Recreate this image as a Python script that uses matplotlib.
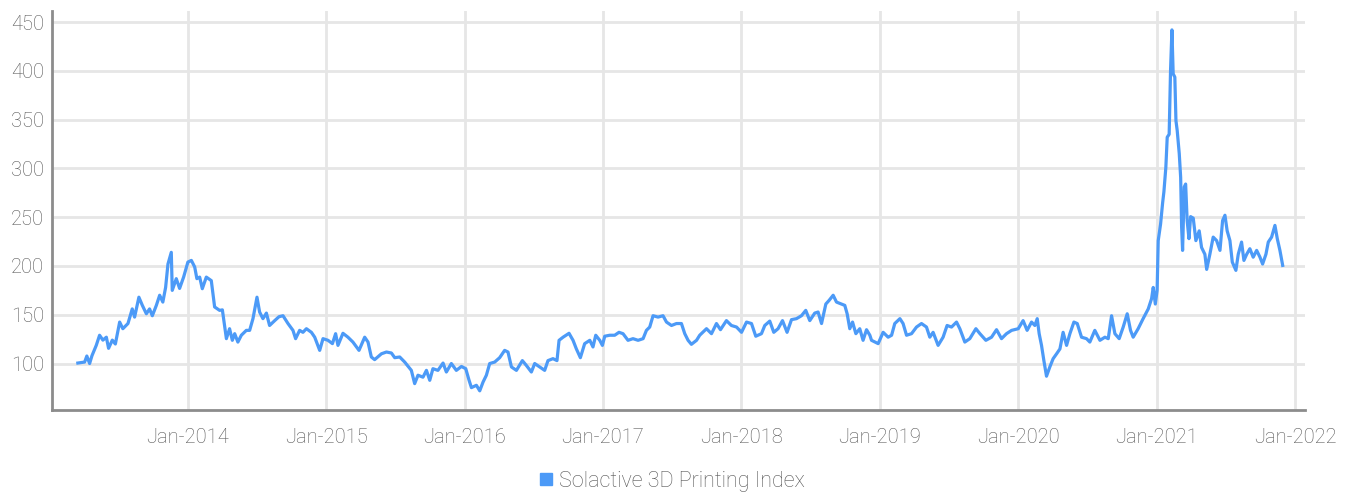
import matplotlib
matplotlib.use("Agg")
import matplotlib.pyplot as plt
from matplotlib.lines import Line2D
import numpy as np

plt.rcParams['font.family'] = ['Roboto', 'DejaVu Sans']
plt.rcParams['font.weight'] = 'light'

series_name = "Solactive 3D Printing Index"

# time as decimal years
years = [
    2013.207, 2013.256, 2013.272, 2013.292, 2013.309, 2013.340, 2013.364, 2013.388, 2013.413, 2013.429,
    2013.456, 2013.478, 2013.509, 2013.532, 2013.569, 2013.600, 2013.617, 2013.648, 2013.673, 2013.702,
    2013.725, 2013.745, 2013.774, 2013.798, 2013.821, 2013.841, 2013.858, 2013.882, 2013.889, 2013.918,
    2013.942, 2013.971, 2014.002, 2014.027, 2014.051, 2014.067, 2014.087, 2014.106, 2014.135, 2014.171,
    2014.195, 2014.231, 2014.251, 2014.280, 2014.303, 2014.323, 2014.340, 2014.363, 2014.388, 2014.424,
    2014.448, 2014.472, 2014.501, 2014.520, 2014.544, 2014.569, 2014.592, 2014.629, 2014.660, 2014.689,
    2014.725, 2014.761, 2014.780, 2014.809, 2014.833, 2014.858, 2014.894, 2014.918, 2014.954, 2014.978,
    2015.014, 2015.046, 2015.069, 2015.086, 2015.122, 2015.158, 2015.194, 2015.238, 2015.279, 2015.303,
    2015.327, 2015.351, 2015.400, 2015.436, 2015.472, 2015.496, 2015.532, 2015.568, 2015.616, 2015.640,
    2015.664, 2015.700, 2015.725, 2015.749, 2015.772, 2015.808, 2015.845, 2015.869, 2015.905, 2015.941,
    2015.978, 2016.009, 2016.033, 2016.050, 2016.086, 2016.110, 2016.134, 2016.158, 2016.182, 2016.218,
    2016.254, 2016.290, 2016.314, 2016.339, 2016.375, 2016.418, 2016.447, 2016.483, 2016.507, 2016.543,
    2016.579, 2016.603, 2016.639, 2016.668, 2016.683, 2016.712, 2016.755, 2016.784, 2016.808, 2016.837,
    2016.868, 2016.905, 2016.928, 2016.948, 2016.977, 2016.996, 2017.013, 2017.049, 2017.085, 2017.116,
    2017.145, 2017.181, 2017.217, 2017.254, 2017.290, 2017.314, 2017.338, 2017.362, 2017.398, 2017.434,
    2017.459, 2017.495, 2017.531, 2017.567, 2017.591, 2017.615, 2017.639, 2017.676, 2017.699, 2017.748,
    2017.784, 2017.820, 2017.849, 2017.892, 2017.928, 2017.965, 2018.001, 2018.037, 2018.073, 2018.104,
    2018.145, 2018.169, 2018.205, 2018.234, 2018.265, 2018.297, 2018.330, 2018.362, 2018.398, 2018.434,
    2018.465, 2018.494, 2018.530, 2018.554, 2018.579, 2018.610, 2018.634, 2018.663, 2018.687, 2018.723,
    2018.747, 2018.764, 2018.783, 2018.803, 2018.827, 2018.855, 2018.879, 2018.904, 2018.928, 2018.940,
    2018.988, 2019.024, 2019.060, 2019.085, 2019.108, 2019.145, 2019.168, 2019.193, 2019.229, 2019.265,
    2019.301, 2019.337, 2019.361, 2019.385, 2019.421, 2019.457, 2019.486, 2019.518, 2019.554, 2019.578,
    2019.614, 2019.650, 2019.694, 2019.723, 2019.766, 2019.807, 2019.843, 2019.879, 2019.915, 2019.952,
    2020.000, 2020.035, 2020.064, 2020.096, 2020.120, 2020.137, 2020.151, 2020.168, 2020.185, 2020.204,
    2020.228, 2020.252, 2020.277, 2020.301, 2020.324, 2020.349, 2020.373, 2020.402, 2020.426, 2020.457,
    2020.493, 2020.517, 2020.553, 2020.590, 2020.626, 2020.650, 2020.674, 2020.698, 2020.729, 2020.758,
    2020.787, 2020.811, 2020.830, 2020.866, 2020.902, 2020.939, 2020.963, 2020.975, 2020.990, 2021.003,
    2021.011, 2021.028, 2021.043, 2021.052, 2021.066, 2021.076, 2021.090, 2021.100, 2021.110, 2021.119,
    2021.131, 2021.139, 2021.148, 2021.163, 2021.173, 2021.180, 2021.187, 2021.199, 2021.209, 2021.220,
    2021.233, 2021.245, 2021.264, 2021.283, 2021.307, 2021.324, 2021.348, 2021.361, 2021.384, 2021.408,
    2021.433, 2021.457, 2021.476, 2021.493, 2021.509, 2021.529, 2021.546, 2021.572, 2021.589, 2021.613,
    2021.630, 2021.650, 2021.673, 2021.697, 2021.722, 2021.746, 2021.765, 2021.789, 2021.806, 2021.830,
    2021.854, 2021.871, 2021.890, 2021.910,
]
index_values = [
    100.5, 101.5, 107.7, 100.0, 108.0, 118.6, 129.0, 124.0, 127.0, 115.6,
    124.0, 120.0, 142.5, 135.7, 141.0, 156.0, 147.6, 168.0, 159.6, 151.0,
    156.0, 149.0, 159.6, 170.0, 163.0, 178.0, 202.0, 214.0, 175.0, 187.0,
    177.0, 188.6, 204.0, 205.7, 199.0, 187.0, 188.6, 176.7, 188.6, 185.0,
    158.0, 154.5, 155.0, 125.5, 135.7, 123.8, 130.6, 122.0, 129.0, 134.0,
    134.0, 146.0, 168.0, 152.8, 146.0, 151.7, 139.0, 144.0, 148.0, 149.0,
    141.0, 134.0, 125.5, 134.0, 132.0, 135.7, 132.0, 127.0, 113.5, 125.5,
    123.8, 120.4, 130.6, 118.6, 131.0, 127.0, 122.0, 113.5, 127.0, 122.0,
    106.7, 104.0, 110.0, 111.8, 110.8, 106.0, 106.7, 101.5, 93.0, 79.4,
    88.0, 86.0, 93.0, 82.8, 94.7, 93.0, 100.5, 91.3, 100.0, 93.0,
    97.0, 94.7, 82.8, 75.3, 77.7, 72.0, 81.0, 88.0, 100.0, 101.5,
    106.0, 113.5, 111.8, 96.5, 93.0, 103.0, 98.0, 91.3, 100.0, 96.5,
    93.0, 103.0, 105.0, 103.0, 123.8, 127.0, 131.0, 123.8, 115.0, 106.0,
    120.4, 123.8, 117.0, 129.0, 123.8, 118.6, 128.0, 129.0, 129.0, 132.0,
    130.6, 123.8, 125.5, 123.8, 125.5, 134.0, 137.4, 149.0, 147.6, 149.0,
    142.5, 139.0, 141.0, 141.0, 130.6, 123.8, 119.7, 123.8, 129.0, 135.7,
    130.6, 141.0, 134.7, 144.0, 139.0, 137.4, 132.0, 142.5, 141.0, 128.0,
    130.6, 139.0, 143.5, 132.0, 135.7, 144.0, 132.0, 145.0, 146.0, 149.0,
    154.5, 144.0, 151.7, 152.8, 141.0, 161.0, 164.8, 170.0, 163.0, 161.0,
    159.6, 151.0, 135.7, 142.5, 130.6, 135.7, 123.8, 134.7, 129.0, 123.8,
    120.4, 132.0, 127.0, 129.0, 141.0, 146.0, 141.0, 129.0, 130.6, 137.4,
    141.0, 137.4, 127.0, 132.0, 118.6, 127.0, 139.0, 137.4, 142.5, 135.7,
    122.0, 125.5, 135.7, 130.6, 123.8, 127.0, 134.7, 125.5, 130.6, 134.0,
    135.7, 144.0, 134.0, 142.5, 139.0, 146.0, 130.6, 118.6, 103.0, 87.0,
    96.5, 105.0, 110.0, 115.0, 132.0, 118.6, 130.6, 142.5, 141.0, 127.0,
    125.5, 122.0, 134.0, 123.8, 127.0, 125.5, 149.0, 130.6, 125.5, 137.4,
    151.0, 134.0, 127.0, 135.7, 146.0, 156.0, 166.5, 178.0, 161.0, 175.0,
    226.0, 243.0, 265.0, 276.0, 301.0, 332.0, 335.0, 400.5, 442.0, 397.0,
    393.6, 349.0, 339.0, 315.0, 291.0, 240.0, 216.0, 281.0, 284.0, 246.5,
    228.0, 250.6, 249.0, 226.0, 236.0, 219.0, 212.0, 196.5, 212.0, 229.6,
    226.0, 216.0, 246.5, 252.0, 236.0, 226.0, 204.0, 195.5, 212.0, 224.5,
    205.7, 212.0, 217.7, 209.0, 216.0, 209.0, 202.0, 212.0, 224.5, 229.6,
    241.6, 228.0, 216.0, 200.6,
]

tick_years = [2014, 2015, 2016, 2017, 2018, 2019, 2020, 2021, 2022]
tick_labels = ["Jan-2014", "Jan-2015", "Jan-2016", "Jan-2017", "Jan-2018",
               "Jan-2019", "Jan-2020", "Jan-2021", "Jan-2022"]
y_ticks = [100, 150, 200, 250, 300, 350, 400, 450]

line_color = "#4C9AF7"
text_color = "#555555"

fig = plt.figure(figsize=(13.53, 4.95), dpi=100)
ax = fig.add_axes([0.0385, 0.171, 0.926, 0.807])

ax.plot(years, index_values, color=line_color, linewidth=2.3,
        solid_joinstyle='round', zorder=3)

ax.set_xlim(2013.021, 2022.071)
ax.set_ylim(52, 461.5)
ax.set_xticks(tick_years)
ax.set_xticklabels(tick_labels)
ax.set_yticks(y_ticks)

ax.grid(True, color="#e6e6e6", linewidth=2.0, zorder=0)
ax.set_axisbelow(True)

ax.tick_params(axis='both', length=0, labelsize=14.5, labelcolor=text_color)
ax.tick_params(axis='x', pad=13)
ax.tick_params(axis='y', pad=6)

ax.spines['top'].set_visible(False)
ax.spines['right'].set_visible(False)
for side in ['left', 'bottom']:
    ax.spines[side].set_color("#8c8c8c")
    ax.spines[side].set_linewidth(2.0)

handle = Line2D([], [], marker='s', color=line_color, linestyle='', markersize=8)
fig.legend([handle], [series_name], loc='center', bbox_to_anchor=(0.495, 0.028),
           frameon=False, fontsize=15.5, labelcolor=text_color,
           handletextpad=0.1, handlelength=1.0)

fig.savefig("out.png", dpi=100)
